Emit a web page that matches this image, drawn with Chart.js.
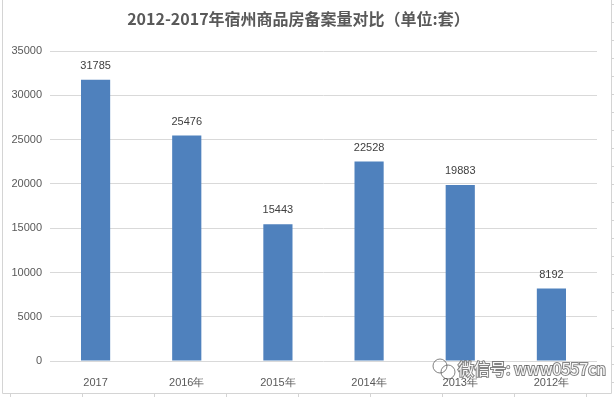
<!DOCTYPE html>
<html>
<head>
<meta charset="utf-8">
<script src="https://cdn.jsdelivr.net/npm/chart.js@4/dist/chart.umd.min.js"></script>
<style>
  html, body { margin: 0; padding: 0; background: #fff; }
  #wrap { width: 614px; height: 397px; position: relative; }
</style>
</head>
<body>
<div id="wrap"><canvas id="barChart" width="614" height="397"></canvas></div>
<script>
const CHART = document.getElementById("barChart");

let years = ['2017', '2016年', '2015年', '2014年', '2013年', '2012年']
let units = [31785, 25476, 15443, 22528, 19883, 8192]
let yTicks = [0, 5000, 10000, 15000, 20000, 25000, 30000, 35000]

const LABEL_FONT = "11px 'Liberation Sans', Arial, sans-serif"

// value labels above each bar
const barLabels = {
    id: 'barLabels',
    afterDatasetsDraw(chart) {
        const ctx = chart.ctx
        const meta = chart.getDatasetMeta(0)
        ctx.save()
        ctx.font = LABEL_FONT
        ctx.fillStyle = '#404040'
        ctx.textAlign = 'center'
        ctx.textBaseline = 'middle'
        meta.data.forEach((bar, i) => {
            ctx.fillText(units[i], bar.x, bar.y - 14)
        })
        ctx.restore()
    }
}

// sheet frame around the picture and the watermark
const frame = {
    id: 'frame',
    afterDraw(chart) {
        const ctx = chart.ctx
        ctx.save()
        ctx.strokeStyle = '#d4d4d4'
        ctx.lineWidth = 1
        ctx.beginPath()
        ctx.moveTo(2.5, 0); ctx.lineTo(2.5, 393.5)
        ctx.lineTo(611.5, 393.5); ctx.lineTo(611.5, 0)
        for (let x = 10; x < 611; x += 72) { ctx.moveTo(x + 0.5, 393.5); ctx.lineTo(x + 0.5, 397) }
        for (let y = 4; y < 393; y += 18) { ctx.moveTo(611.5, y + 0.5); ctx.lineTo(614, y + 0.5) }
        ctx.stroke()

        ctx.font = "16px 'Noto Sans CJK SC', sans-serif"
        ctx.textBaseline = 'middle'
        ctx.lineWidth = 2
        ctx.strokeStyle = 'rgba(90,90,90,0.75)'
        ctx.fillStyle = 'rgba(255,255,255,0.95)'
        ctx.strokeText('微信号: www0557cn', 458, 369)
        ctx.fillText('微信号: www0557cn', 458, 369)
        ctx.lineWidth = 1
        ctx.beginPath()
        ctx.arc(440, 366, 7, 0, Math.PI * 2)
        ctx.moveTo(455, 372); ctx.arc(448, 372, 7, 0, Math.PI * 2)
        ctx.stroke()
        ctx.restore()
    }
}

const data = {
    labels: years,
    datasets: [{
        label: '备案量',
        data: units,
        backgroundColor: '#4f81bd',
        borderWidth: 0,
        barPercentage: 0.32,
        categoryPercentage: 1.0,
    }]
};

let barChart = new Chart(CHART, {
    type: 'bar',
    data: data,
    plugins: [barLabels, frame],
    options: {
        responsive: false,
        animation: false,
        layout: { padding: { left: 0, right: 17, top: 0, bottom: 0 } },
        plugins: {
            legend: { display: false },
            tooltip: { enabled: false },
            title: {
                display: true,
                text: '2012-2017年宿州商品房备案量对比（单位:套）',
                color: '#595959',
                font: { family: "'Noto Sans CJK SC', sans-serif", size: 16, weight: 'bold' },
                padding: { top: 9, bottom: 23 },
            },
        },
        scales: {
            x: {
                grid: { display: false },
                border: { display: false },
                ticks: {
                    color: '#595959',
                    font: { family: "'Liberation Sans', Arial, sans-serif", size: 11 },
                    padding: 7,
                    maxRotation: 0,
                },
                afterFit(scale) { scale.height = 36 },
            },
            y: {
                min: 0,
                max: 35000,
                afterBuildTicks(scale) { scale.ticks = yTicks.map(v => ({ value: v })) },
                grid: { color: '#d9d9d9', drawTicks: false },
                border: { display: false },
                ticks: {
                    color: '#595959',
                    font: { family: "'Liberation Sans', Arial, sans-serif", size: 11 },
                    padding: 8,
                    callback: (v) => String(v),
                },
                afterFit(scale) { scale.width = 50 },
            },
        },
    },
})
</script>
</body>
</html>
